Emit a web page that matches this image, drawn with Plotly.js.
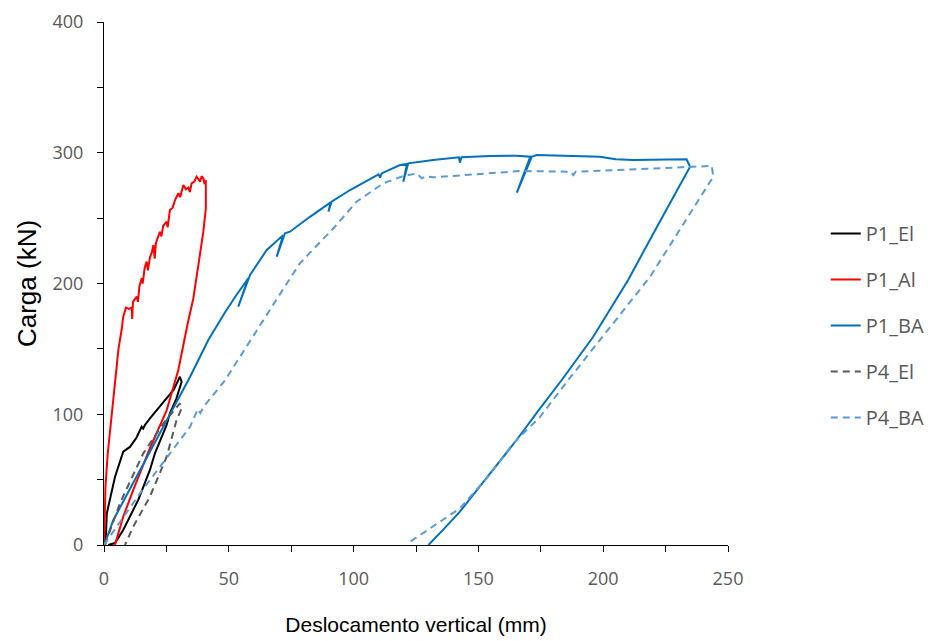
<!DOCTYPE html>
<html>
<head>
<meta charset="utf-8">
<script src="https://cdn.plot.ly/plotly-3.0.1.min.js"></script>
<style>
  html, body { margin: 0; padding: 0; background: #ffffff; }
  #chart { width: 932px; height: 641px; }
</style>
</head>
<body>
<div id="chart"></div>
<script>
// ---- Data ----
const seriesNames = ["P1_El", "P1_Al", "P1_BA", "P4_El", "P4_BA"];

// P1_El : loading then unloading
const p1El_x = [0, 0.8, 1.1, 4.4, 7.7, 10.4, 13.0, 15.1, 15.7, 16.4, 18.5, 21.1, 23.5, 25.8, 28.0, 30.4, 31.1,
                29.0, 26.4, 25.1, 20.4, 18.4, 13.7, 11.7, 7.7, 4.4, 1.7];
const p1El_y = [0, 8, 24, 52, 71.4, 75, 82, 90.5, 89, 91.8, 97, 103, 108, 113.4, 119, 128.7, 124.9,
                112, 100.7, 91.8, 70.1, 57.4, 34.4, 26.8, 11.5, 1.5, 0];

// P1_Al : loading (jagged) then unloading
const p1Al_x = [0, 0.2, 0.6, 1.5, 2.8, 4.4, 5.8, 7.1, 7.7, 8.8, 10.0, 11.1, 11.3, 11.6, 13.1, 13.6, 14.2, 15.1, 15.5,
                16.3, 17.1, 17.6, 18.4, 19.2, 19.8, 20.3, 20.8, 22.4, 23.0, 23.7, 25.1, 25.5, 26.4, 27.5, 28.5,
                29.8, 30.5, 31.8, 32.8, 33.8, 34.4, 35.1, 36.2, 37.1, 37.6, 38.5, 39.1, 39.8, 40.3, 40.8,
                40.8, 39.8, 37.8, 35.8, 33.4, 29.8, 25.1, 18.4, 11.7, 7.7, 4.4];
const p1Al_y = [0, 20, 45, 70, 95, 125, 150, 165, 174.6, 181.5, 180.5, 181.5, 172.8, 186, 190, 186, 198, 204, 200,
                212, 216.7, 210, 220, 224, 229.4, 219, 231, 239.6, 236, 244, 247.3, 243, 256.2, 258, 264,
                269, 266, 275.3, 272, 273.3, 270, 276.6, 278, 281.7, 280, 277.9, 282, 280.5, 276, 279,
                257.5, 239.6, 214, 188.7, 168.3, 134, 103, 74, 42, 21.7, 0];

// P1_BA : loading with small unload/reload loops, plateau, unloading
const p1BA_x = [0, 0.4, 3.7, 20, 34.5, 41.8, 48.5, 53.0, 57.8, 53.8, 58.5, 65.2, 71.8, 69.2, 72.5, 74.5, 82.5,
                90.8, 89.9, 91.2, 98.6, 110.0, 110.6, 111.2, 118.6, 121.4, 119.9, 121.9, 131.9, 142.2, 142.6, 143.2,
                154.6, 165.3, 170.8, 165.4, 171.4, 173.3, 198.7, 205, 212, 233.4, 234.8,
                222, 210, 196, 183.4, 174.7, 165.3, 154, 142.6, 136, 130];
const p1BA_y = [0, 1.5, 19, 77, 128.7, 156.8, 178, 191, 204, 182.3, 206.5, 225.6, 237, 220.5, 238.4, 239.6, 251,
                262, 255, 262.6, 271.5, 283.5, 281, 284.2, 290.6, 291.5, 277.9, 291.9, 294.5, 296.5, 292.4, 296.5,
                297.5, 297.8, 297, 269.5, 297, 298.3, 297, 295, 294.5, 295, 289.3,
                245, 202.7, 159.3, 126.2, 104.5, 80.3, 53, 25.5, 12, 0];

// P4_El : loading then unloading (dashed)
const p4El_x = [0.5, 1.1, 6.4, 15.7, 23.8, 30.4, 31.1, 29.0, 25.1, 18.4, 11.7, 8.4];
const p4El_y = [0, 4, 32, 70, 93, 108.4, 104.5, 95, 67.5, 37, 14, 0];

// P4_BA : loading, plateau, unloading (dashed)
const p4BA_x = [0, 14.4, 34.5, 37.6, 38.6, 40.0, 48.5, 59.8, 69.2, 78.5, 92.5, 101.2, 111.9, 119.9, 125.3, 127.3, 129.0,
                131.9, 158.7, 166.7, 187.0, 188.0, 189.0, 243.5, 244.1,
                218.8, 198.7, 186.0, 174.7, 164.0, 153.3, 142.6, 121.3];
const p4BA_y = [0, 39.5, 90.5, 104, 101, 106, 126, 159.3, 188, 215.5, 243.4, 262.6, 276.6, 282.2, 284.2, 280.5, 282,
                281.2, 285, 286, 285.5, 283, 285.5, 289.9, 281.7,
                205.2, 156.8, 126.2, 98, 77.8, 51, 28, 0.8];

const xTickVals = [0, 50, 100, 150, 200, 250];
const xTickText = ["0", "50", "100", "150", "200", "250"];
const yTickVals = [0, 100, 200, 300, 400];
const yTickText = ["0", "100", "200", "300", "400"];

const xTitle = "Deslocamento vertical (mm)";
const yTitle = "Carga (kN)";

// ---- Traces ----
const seriesX = [p1El_x, p1Al_x, p1BA_x, p4El_x, p4BA_x];
const seriesY = [p1El_y, p1Al_y, p1BA_y, p4El_y, p4BA_y];
const colors = ["#000000", "#FF0000", "#0070C0", "#595959", "#5B9BD5"];
const dashes = ["solid", "solid", "solid", "7px,5px", "7px,5px"];

const traces = seriesNames.map((name, i) => ({
  type: "scatter",
  mode: "lines",
  name: name,
  x: seriesX[i],
  y: seriesY[i],
  legendgroup: name,
  line: { color: colors[i], width: 2, dash: dashes[i] }
}));

const tickFont = { family: "'Open Sans', Lato, sans-serif", size: 18, color: "#595959" };

const layout = {
  width: 932,
  height: 641,
  margin: { l: 104, r: 204, t: 22, b: 96, pad: 0 },
  paper_bgcolor: "#ffffff",
  plot_bgcolor: "#ffffff",
  showlegend: true,
  legend: {
    xref: "container", yref: "container",
    x: 0.886, xanchor: "left",
    y: 0.666, yanchor: "top",
    font: { family: "'Open Sans', Lato, sans-serif", size: 20, color: "#595959" },
    traceorder: "grouped",
    tracegroupgap: 17,
    bgcolor: "rgba(0,0,0,0)"
  },
  xaxis: {
    range: [0, 250],
    showgrid: false,
    zeroline: false,
    showline: true,
    linecolor: "#000000",
    linewidth: 1,
    ticks: "outside",
    ticklen: 6,
    tickcolor: "#000000",
    tickvals: xTickVals,
    ticktext: xTickText,
    tickfont: tickFont,
    ticklabelstandoff: 11,
    minor: { dtick: 25, tick0: 0, ticks: "outside", ticklen: 6, tickcolor: "#000000", showgrid: false },
    title: { text: xTitle, font: { family: "'Liberation Sans', Arial, sans-serif", size: 21, color: "#000000" }, standoff: 28 },
    fixedrange: true
  },
  yaxis: {
    range: [0, 400],
    showgrid: false,
    zeroline: false,
    showline: true,
    linecolor: "#000000",
    linewidth: 1,
    ticks: "outside",
    ticklen: 6,
    tickcolor: "#000000",
    tickvals: yTickVals,
    ticktext: yTickText,
    tickfont: tickFont,
    ticklabelstandoff: 10,
    minor: { dtick: 50, tick0: 0, ticks: "outside", ticklen: 6, tickcolor: "#000000", showgrid: false },
    title: { text: yTitle, font: { family: "'Liberation Sans', Arial, sans-serif", size: 26, color: "#000000" }, standoff: 8 },
    fixedrange: true
  }
};

Plotly.newPlot("chart", traces, layout, { displayModeBar: false, staticPlot: true });
</script>
</body>
</html>
